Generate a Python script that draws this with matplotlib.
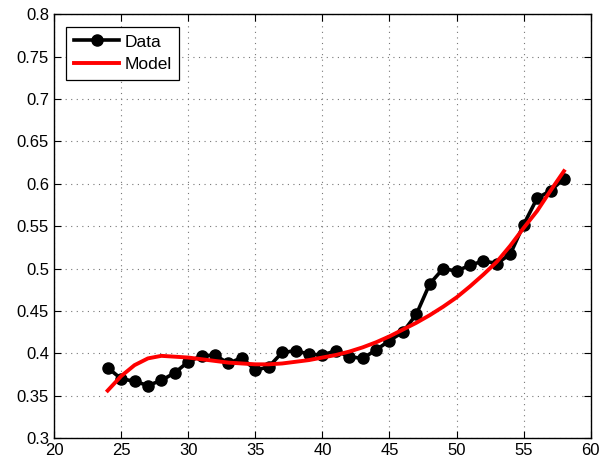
import matplotlib
matplotlib.use("Agg")
import matplotlib.pyplot as plt

# values
data_x = list(range(24, 59))
data_y = [0.383, 0.370, 0.367, 0.362, 0.368, 0.377, 0.390, 0.397, 0.398, 0.388,
          0.395, 0.380, 0.384, 0.401, 0.403, 0.399, 0.398, 0.403, 0.396, 0.394,
          0.404, 0.415, 0.425, 0.446, 0.482, 0.500, 0.497, 0.504, 0.509, 0.506,
          0.517, 0.552, 0.583, 0.592, 0.606]

model_x = list(range(24, 59))
model_y = [0.356, 0.373, 0.386, 0.394, 0.397, 0.396, 0.395, 0.393, 0.391, 0.389,
           0.388, 0.387, 0.387, 0.388, 0.390, 0.392, 0.395, 0.398, 0.402, 0.407,
           0.413, 0.420, 0.428, 0.436, 0.445, 0.455, 0.466, 0.479, 0.493, 0.508,
           0.527, 0.548, 0.568, 0.592, 0.615]

x_ticks = [20, 25, 30, 35, 40, 45, 50, 55, 60]
y_ticks = [0.3, 0.35, 0.4, 0.45, 0.5, 0.55, 0.6, 0.65, 0.7, 0.75, 0.8]
y_labels = ["0.3", "0.35", "0.4", "0.45", "0.5", "0.55", "0.6", "0.65", "0.7", "0.75", "0.8"]

plt.rcParams['font.family'] = ['Liberation Sans', 'DejaVu Sans']

fig = plt.figure(figsize=(6.1, 4.65), dpi=100)
ax = fig.add_axes([0.0885, 0.058, 0.88, 0.911])

ax.plot(data_x, data_y, color='black', linewidth=2.6, marker='o', markersize=8,
        markerfacecolor='black', markeredgecolor='black', label='Data')
ax.plot(model_x, model_y, color='red', linewidth=2.8, label='Model')

ax.set_xlim(20, 60)
ax.set_ylim(0.3, 0.8)
ax.set_xticks(x_ticks)
ax.set_yticks(y_ticks)
ax.set_yticklabels(y_labels)
ax.tick_params(direction='in', length=5, width=0.8, labelsize=12, top=True, right=True,
               labeltop=False, labelright=False)
ax.grid(True, linestyle=(0, (1, 4)), color='#777777', linewidth=0.8)
for s in ax.spines.values():
    s.set_linewidth(1.0)

leg = ax.legend(loc='upper left', fontsize=12.5, frameon=True, fancybox=False,
                edgecolor='black', framealpha=1, borderaxespad=0.7,
                handlelength=2.6, handletextpad=0.3, borderpad=0.45, labelspacing=0.45)
leg.get_frame().set_linewidth(0.9)

fig.savefig("out.png", dpi=100)
